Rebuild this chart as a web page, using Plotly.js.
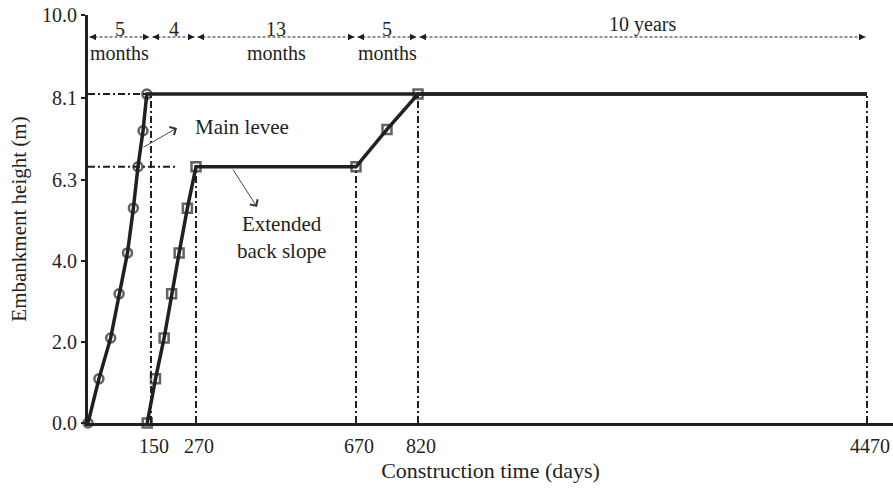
<!DOCTYPE html>
<html>
<head>
<meta charset="utf-8">
<script src="https://cdn.plot.ly/plotly-3.0.1.min.js"></script>
<style>html,body{margin:0;padding:0;background:#fff;}#chart{width:893px;height:489px;}</style>
</head>
<body>
<div id="chart"></div>
<script>
// ---- data (days, metres) ----
const mainDays   = [0, 26, 54, 74, 94, 108, 119, 131, 140, 4470];
const mainHeight = [0, 1.09, 2.10, 3.19, 4.23, 5.50, 6.59, 7.38, 8.19, 8.19];

const extDays    = [141, 162, 185, 205, 225, 247, 270, 670, 745, 820, 4470];
const extHeight  = [0, 1.09, 2.10, 3.19, 4.23, 5.50, 6.59, 6.59, 7.41, 8.19, 8.19];

const xTickDays   = [150, 270, 670, 820, 4470];
const xTickText   = ['150', '270', '670', '820', '4470'];
const yTickVals   = [0, 2, 4, 6.3, 8.1, 10];
const yTickText   = ['0.0', '2.0', '4.0', '6.3', '8.1', '10.0'];

const phaseDays   = [0, 150, 270, 670, 820, 4470];
const phaseTop    = ['5', '4', '13', '5', '10 years'];
const phaseBottom = ['months', '', 'months', 'months', ''];

const guideVDays  = [150, 270, 670, 820, 4470];
const guideVTop   = [8.19, 6.59, 6.59, 8.19, 8.19];
const guideHVals  = [8.19, 6.59];
const guideHEnd   = [140, 222];

// ---- broken (piecewise) axis scales ----
const X_SCALE_DAYS = [0, 150, 270, 670, 820, 4470];
const X_SCALE_POS  = [0, 63, 108, 268, 330, 779];
const Y_SCALE_VAL  = [0, 2, 4, 6.3, 8.1, 10];
const Y_SCALE_POS  = [0, 81, 162, 243, 325, 408];
function interp(v, xs, ys) {
  for (let i = 0; i < xs.length - 1; i++) {
    if (v <= xs[i + 1] || i === xs.length - 2) {
      return ys[i] + (v - xs[i]) * (ys[i + 1] - ys[i]) / (xs[i + 1] - xs[i]);
    }
  }
}
const xp = d => interp(d, X_SCALE_DAYS, X_SCALE_POS);
const yp = h => interp(h, Y_SCALE_VAL, Y_SCALE_POS);

const INK = '#231f20';
const FONT = 'Liberation Serif, Times New Roman, serif';

const traces = [
  {
    x: mainDays.map(xp), y: mainHeight.map(yp), mode: 'lines+markers',
    line: {color: INK, width: 3.5},
    marker: {symbol: 'circle-open', size: mainDays.map((d, i) => i < mainDays.length - 1 ? 9 : 0),
             color: INK, line: {width: 2.5, color: INK}},
    cliponaxis: false, hoverinfo: 'skip'
  },
  {
    x: extDays.map(xp), y: extHeight.map(yp), mode: 'lines+markers',
    line: {color: INK, width: 3.5},
    marker: {symbol: 'square-open', size: extDays.map((d, i) => i < extDays.length - 1 ? 9 : 0),
             color: INK, line: {width: 2.5, color: INK}},
    cliponaxis: false, hoverinfo: 'skip'
  }
];

const DASHDOT = '7px,3px,2px,3px';
const shapes = [];
guideVDays.forEach((d, i) => shapes.push({
  type: 'line', xref: 'x', yref: 'y', x0: xp(d), x1: xp(d), y0: 0, y1: yp(guideVTop[i]),
  line: {color: INK, width: 2, dash: DASHDOT}, layer: 'below'
}));
guideHVals.forEach((h, i) => shapes.push({
  type: 'line', xref: 'x', yref: 'y', x0: 0, x1: xp(guideHEnd[i]), y0: yp(h), y1: yp(h),
  line: {color: INK, width: 2, dash: DASHDOT}, layer: 'below'
}));

// dimension lines for the construction phases
const DIM_Y = 386, DIM_TXT_TOP = 394, DIM_TXT_BOT = 370;
const annotations = [];
for (let i = 0; i < phaseDays.length - 1; i++) {
  const a = xp(phaseDays[i]) + 1.5, b = xp(phaseDays[i + 1]) - 1.5;
  shapes.push({type: 'line', xref: 'x', yref: 'y', x0: a, x1: b, y0: DIM_Y, y1: DIM_Y,
               line: {color: INK, width: 1, dash: '3px,2px'}});
  annotations.push({x: a, y: DIM_Y, xref: 'x', yref: 'y', text: '', showarrow: true,
                    ax: 7, ay: 0, arrowhead: 2, arrowsize: 1.3, arrowwidth: 1, arrowcolor: INK});
  annotations.push({x: b, y: DIM_Y, xref: 'x', yref: 'y', text: '', showarrow: true,
                    ax: -7, ay: 0, arrowhead: 2, arrowsize: 1.3, arrowwidth: 1, arrowcolor: INK});
  const mid = (xp(phaseDays[i]) + xp(phaseDays[i + 1])) / 2;
  const topY = phaseBottom[i] || i === 1 ? DIM_TXT_TOP : DIM_TXT_TOP + 5;
  annotations.push({x: mid, y: topY, xref: 'x', yref: 'y', text: phaseTop[i], showarrow: false,
                    font: {family: FONT, size: 20, color: INK}, yanchor: 'middle'});
  if (phaseBottom[i]) {
    annotations.push({x: mid, y: DIM_TXT_BOT, xref: 'x', yref: 'y', text: phaseBottom[i], showarrow: false,
                      font: {family: FONT, size: 20, color: INK}, yanchor: 'middle'});
  }
}

// labels with pointers
annotations.push({x: 154, y: 296, xref: 'x', yref: 'y', text: 'Main levee', showarrow: false,
                  font: {family: FONT, size: 21, color: INK}});
annotations.push({x: 89, y: 295, xref: 'x', yref: 'y', text: '', showarrow: true, ax: -35, ay: 20,
                  arrowhead: 4, arrowsize: 2, arrowwidth: 0.9, arrowcolor: '#333'});
annotations.push({x: 193, y: 186, xref: 'x', yref: 'y', text: 'Extended<br>back slope', showarrow: false,
                  font: {family: FONT, size: 21, color: INK}});
annotations.push({x: 169, y: 216, xref: 'x', yref: 'y', text: '', showarrow: true, ax: -25, ay: -39,
                  arrowhead: 4, arrowsize: 2, arrowwidth: 0.9, arrowcolor: '#333'});

const layout = {
  width: 893, height: 489,
  margin: {l: 88, r: 0, t: 15, b: 66},
  paper_bgcolor: '#fff', plot_bgcolor: '#fff',
  showlegend: false,
  font: {family: FONT, size: 20, color: INK},
  xaxis: {
    range: [0, 805], showgrid: false, zeroline: false,
    showline: true, linecolor: INK, linewidth: 3,
    tickvals: xTickDays.map(xp), ticktext: xTickText,
    ticks: '', ticklabelstandoff: 3, ticklabelshift: 3,
    tickfont: {family: FONT, size: 20, color: INK},
    title: {text: 'Construction time (days)', font: {family: FONT, size: 22, color: INK}, standoff: 7}
  },
  yaxis: {
    range: [0, 408], showgrid: false, zeroline: false,
    showline: true, linecolor: INK, linewidth: 3,
    tickvals: yTickVals.map(yp), ticktext: yTickText,
    ticks: 'outside', ticklen: 4, tickwidth: 2, tickcolor: INK,
    tickfont: {family: FONT, size: 20, color: INK},
    title: {text: 'Embankment height (m)', font: {family: FONT, size: 21, color: INK}, standoff: 10}
  },
  shapes: shapes,
  annotations: annotations
};

Plotly.newPlot('chart', traces, layout, {staticPlot: true, displayModeBar: false});
</script>
</body>
</html>
